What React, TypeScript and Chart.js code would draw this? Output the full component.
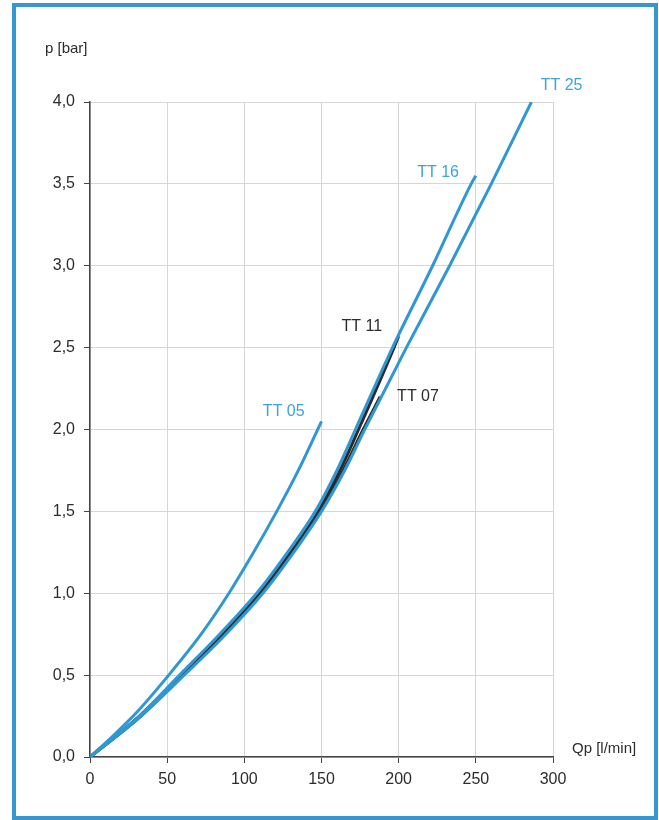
import React, { useEffect, useRef } from 'react';
import { Chart, registerables } from 'chart.js';

Chart.register(...registerables);

// Flow rate Qp [l/min] and pressure p [bar] for each pump type
const tt05Q = [0, 15, 30, 51, 72, 90, 106, 121, 135, 150];
const tt05P = [0, 0.13, 0.27, 0.5, 0.75, 1.0, 1.25, 1.5, 1.75, 2.05];

const tt16Q = [0, 32, 58, 84, 108, 128, 146, 160, 172, 196, 222, 247, 250];
const tt16P = [0, 0.25, 0.5, 0.75, 1.0, 1.25, 1.5, 1.75, 2.0, 2.5, 3.0, 3.5, 3.55];

const tt25Q = [0, 33, 61, 88, 112, 132, 150, 165, 178, 205, 233, 260, 286];
const tt25P = [0, 0.25, 0.5, 0.75, 1.0, 1.25, 1.5, 1.75, 2.0, 2.5, 3.0, 3.5, 4.0];

const tt11Q = [0, 32, 59, 85, 110, 130, 148, 162, 174, 197, 200];
const tt11P = [0, 0.25, 0.5, 0.75, 1.0, 1.25, 1.5, 1.75, 2.0, 2.5, 2.57];

const tt07Q = [0, 33, 60, 87, 111, 131, 149, 164, 177, 188];
const tt07P = [0, 0.25, 0.5, 0.75, 1.0, 1.25, 1.5, 1.75, 2.0, 2.2];

// Curve labels (text, anchor Q, anchor p)
const labelTexts = ['TT 25', 'TT 16', 'TT 11', 'TT 07', 'TT 05'];
const labelQ = [292, 212, 163, 199, 112];
const labelP = [4.1, 3.57, 2.63, 2.2, 2.11];
const labelIsBlue = [true, true, false, false, true];

const yAxisTitle = 'p [bar]';
const xAxisTitle = 'Qp [l/min]';

const BLUE = '#2f98d2';
const LABEL_BLUE = '#3ba4d9';
const DARK = '#2a2a2a';
const TEXT = '#2c2c2c';
const FONT = '"Liberation Sans", Arial, sans-serif';

const pts = (q: number[], p: number[]) => q.map((v, i) => ({ x: v, y: p[i] }));

const textPlugin = {
  id: 'curveLabels',
  afterDatasetsDraw(chart: any) {
    const { ctx, chartArea, scales } = chart;
    ctx.save();
    ctx.font = `16px ${FONT}`;
    ctx.textBaseline = 'middle';
    ctx.textAlign = 'left';
    labelTexts.forEach((t, i) => {
      ctx.fillStyle = labelIsBlue[i] ? LABEL_BLUE : TEXT;
      ctx.fillText(t, scales.x.getPixelForValue(labelQ[i]), scales.y.getPixelForValue(labelP[i]));
    });
    ctx.fillStyle = TEXT;
    ctx.font = `15px ${FONT}`;
    ctx.fillText(yAxisTitle, chartArea.left - 45, chartArea.top - 53);
    ctx.fillText(xAxisTitle, chartArea.right + 19, chartArea.bottom - 8);
    ctx.restore();
  },
};

export default function App() {
  const ref = useRef<HTMLCanvasElement | null>(null);

  useEffect(() => {
    if (!ref.current) return;
    const line = (q: number[], p: number[], color: string) => ({
      data: pts(q, p),
      borderColor: color,
      borderWidth: 3,
      pointRadius: 0,
      showLine: true,
      fill: false,
      cubicInterpolationMode: 'monotone' as const,
    });
    const chart = new Chart(ref.current, {
      type: 'scatter',
      data: {
        datasets: [
          line(tt05Q, tt05P, BLUE),
          line(tt16Q, tt16P, BLUE),
          line(tt25Q, tt25P, BLUE),
          line(tt11Q, tt11P, DARK),
          line(tt07Q, tt07P, DARK),
        ],
      },
      options: {
        responsive: false,
        animation: false,
        devicePixelRatio: 1,
        layout: { padding: { left: 0, top: 102, right: 106, bottom: 33 } },
        plugins: { legend: { display: false }, tooltip: { enabled: false } },
        scales: {
          x: {
            type: 'linear',
            min: 0,
            max: 300,
            ticks: { stepSize: 50, color: TEXT, font: { family: FONT, size: 16 }, padding: 7 },
            grid: { color: '#d6d6d6', tickColor: '#444', tickLength: 6, lineWidth: 1 },
            border: { color: '#444', width: 1.5 },
            afterFit: (s: any) => { s.height = 30; },
          },
          y: {
            type: 'linear',
            min: 0,
            max: 4,
            ticks: {
              stepSize: 0.5,
              color: TEXT,
              font: { family: FONT, size: 16 },
              padding: 9,
              callback: (v: any) => Number(v).toFixed(1).replace('.', ','),
            },
            grid: { color: '#d6d6d6', tickColor: '#444', tickLength: 6, lineWidth: 1 },
            border: { color: '#444', width: 1.5 },
            afterFit: (s: any) => { s.width = 90; },
          },
        },
      },
      plugins: [textPlugin],
    });
    return () => chart.destroy();
  }, []);

  return (
    <div style={{ position: 'absolute', left: 0, top: 0, width: 659, height: 820, background: '#fff' }}>
      <canvas ref={ref} width={659} height={820} style={{ position: 'absolute', left: 0, top: 0 }} />
      <div
        style={{
          position: 'absolute',
          left: 12,
          top: 3,
          width: 646,
          height: 817,
          border: '4px solid #3596d0',
          boxSizing: 'border-box',
          pointerEvents: 'none',
        }}
      />
    </div>
  );
}
